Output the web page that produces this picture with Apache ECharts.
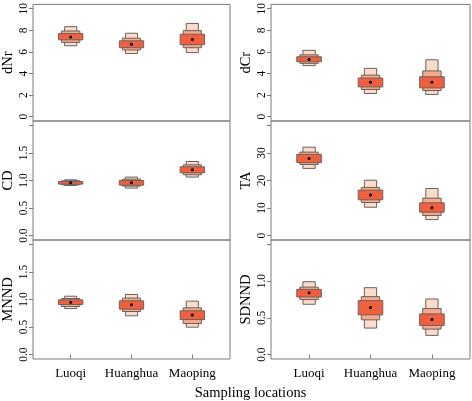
<!DOCTYPE html>
<html><head><meta charset="utf-8">
<script src="https://cdn.jsdelivr.net/npm/echarts@6/dist/echarts.min.js"></script>
<style>html,body{margin:0;padding:0;background:#fff}#c{width:472px;height:401px}</style>
</head><body><div id="c"></div><script>
const locations = ['Luoqi', 'Huanghua', 'Maoping'];

// [low, high] of the outer (light), middle and inner (dark) intervals, plus the median dot
const dNrOuter  = [[6.57, 8.34], [5.85, 7.73], [5.94, 8.64]];
const dNrMiddle = [[6.88, 7.94], [6.18, 7.27], [6.39, 7.97]];
const dNrInner  = [[7.12, 7.70], [6.39, 7.03], [6.67, 7.64]];
const dNrMedian = [7.39, 6.70, 7.15];

const dCrOuter  = [[4.73, 6.15], [2.15, 4.48], [2.06, 5.27]];
const dCrMiddle = [[4.94, 5.73], [2.52, 3.85], [2.42, 4.24]];
const dCrInner  = [[5.09, 5.55], [2.76, 3.58], [2.67, 3.70]];
const dCrMedian = [5.30, 3.18, 3.18];

const CDOuter  = [[0.909, 1.013], [0.862, 1.062], [1.062, 1.345]];
const CDMiddle = [[0.922, 0.995], [0.898, 1.025], [1.104, 1.285]];
const CDInner  = [[0.934, 0.982], [0.916, 1.000], [1.140, 1.249]];
const CDMedian = [0.958, 0.958, 1.195];

const TAOuter  = [[24.4, 32.1], [10.3, 20.1], [5.8, 17.1]];
const TAMiddle = [[25.8, 30.3], [12.0, 17.5], [7.3, 13.6]];
const TAInner  = [[26.5, 29.5], [13.0, 16.5], [8.5, 11.9]];
const TAMedian = [28.0, 14.7, 10.1];

const MNNDOuter  = [[0.836, 1.060], [0.704, 1.091], [0.498, 0.970]];
const MNNDMiddle = [[0.873, 1.018], [0.782, 1.025], [0.564, 0.849]];
const MNNDInner  = [[0.909, 0.994], [0.825, 0.976], [0.636, 0.795]];
const MNNDMedian = [0.952, 0.903, 0.720];

const SDNNDOuter  = [[0.685, 0.992], [0.361, 0.911], [0.262, 0.757]];
const SDNNDMiddle = [[0.749, 0.919], [0.473, 0.789], [0.347, 0.627]];
const SDNNDInner  = [[0.784, 0.888], [0.541, 0.735], [0.397, 0.554]];
const SDNNDMedian = [0.843, 0.640, 0.478];

// axis ticks and labelled ticks
const dNrTicks = [0, 2, 4, 6, 8, 10];     const dNrLabels = [0, 2, 4, 6, 8, 10];
const dCrTicks = [0, 2, 4, 6, 8, 10];     const dCrLabels = [0, 2, 4, 6, 8, 10];
const CDTicks = [0, 0.5, 1, 1.5, 2];      const CDLabels = [0, 0.5, 1, 1.5];
const TATicks = [0, 10, 20, 30, 40];      const TALabels = [0, 10, 20, 30];
const MNNDTicks = [0, 0.5, 1, 1.5, 2];    const MNNDLabels = [0, 0.5, 1, 1.5];
const SDNNDTicks = [0, 0.5, 1, 1.5];      const SDNNDLabels = [0, 0.5, 1];

const xTitle = 'Sampling locations';

const panels = [
  { name: 'dNr', outer: dNrOuter, middle: dNrMiddle, inner: dNrInner, median: dNrMedian, ticks: dNrTicks, labels: dNrLabels, dec: 0 },
  { name: 'dCr', outer: dCrOuter, middle: dCrMiddle, inner: dCrInner, median: dCrMedian, ticks: dCrTicks, labels: dCrLabels, dec: 0 },
  { name: 'CD', outer: CDOuter, middle: CDMiddle, inner: CDInner, median: CDMedian, ticks: CDTicks, labels: CDLabels, dec: 1 },
  { name: 'TA', outer: TAOuter, middle: TAMiddle, inner: TAInner, median: TAMedian, ticks: TATicks, labels: TALabels, dec: 0 },
  { name: 'MNND', outer: MNNDOuter, middle: MNNDMiddle, inner: MNNDInner, median: MNNDMedian, ticks: MNNDTicks, labels: MNNDLabels, dec: 1 },
  { name: 'SDNND', outer: SDNNDOuter, middle: SDNNDMiddle, inner: SDNNDInner, median: SDNNDMedian, ticks: SDNNDTicks, labels: SDNNDLabels, dec: 1 }
];

const FONT = "'Liberation Serif', 'Times New Roman', serif";
const GRAY = '#7a7a7a';
const colLight = '#fbdccb', colMid = '#f4a98a', colDark = '#f0603f', colEdge = '#6a625e';

const colLeft = [31, 271];
const rowTop = [2, 121, 240];
const W = 199, H = 119;

const grids = [], xAxes = [], yAxes = [], series = [];
panels.forEach((p, i) => {
  const col = i % 2, row = Math.floor(i / 2);
  grids.push({ show: true, left: colLeft[col], top: rowTop[row], width: W, height: H,
    borderColor: GRAY, borderWidth: 1, backgroundColor: 'transparent' });
  const isBottom = row === 2;
  xAxes.push({
    type: 'value', gridIndex: i, min: 0.38, max: 3.62,
    axisLine: { show: false }, splitLine: { show: false },
    axisTick: { show: isBottom, customValues: [1, 2, 3], length: 4, lineStyle: { color: GRAY } },
    axisLabel: { show: isBottom, customValues: [1, 2, 3], margin: 8,
      formatter: v => locations[Math.round(v) - 1] || '',
      fontFamily: FONT, fontSize: 13, color: '#000' }
  });
  const lo = p.ticks[0], hi = p.ticks[p.ticks.length - 1], pad = (hi - lo) * 0.04;
  yAxes.push({
    type: 'value', gridIndex: i, min: lo - pad, max: hi + pad,
    name: p.name, nameLocation: 'middle', nameRotate: 90, nameGap: 17,
    nameTextStyle: { fontFamily: FONT, fontSize: 14.5, color: '#000' },
    axisLine: { show: false }, splitLine: { show: false },
    axisTick: { show: true, customValues: p.ticks, length: 4, lineStyle: { color: GRAY } },
    axisLabel: { customValues: p.labels, rotate: 90, margin: 3,
      formatter: v => Number(v).toFixed(p.dec),
      fontFamily: FONT, fontSize: 11.5, color: '#000' }
  });
  const data = locations.map((loc, k) => [k + 1,
    p.outer[k][0], p.outer[k][1], p.middle[k][0], p.middle[k][1],
    p.inner[k][0], p.inner[k][1], p.median[k]]);
  series.push({
    type: 'custom', xAxisIndex: i, yAxisIndex: i, data: data, silent: true,
    renderItem: (params, api) => {
      const x = api.value(0);
      const levels = [
        [api.value(1), api.value(2), 0.1, colLight],
        [api.value(3), api.value(4), 0.15, colMid],
        [api.value(5), api.value(6), 0.2, colDark]
      ];
      const children = levels.map(([l, h, hw, c]) => {
        const a = api.coord([x - hw, h]), b = api.coord([x + hw, l]);
        return { type: 'rect', shape: { x: a[0], y: a[1], width: b[0] - a[0], height: b[1] - a[1] },
          style: { fill: c, stroke: colEdge, lineWidth: 1 } };
      });
      const m = api.coord([x, api.value(7)]);
      children.push({ type: 'circle', shape: { cx: m[0], cy: m[1], r: 1.5 }, style: { fill: '#000' } });
      return { type: 'group', children: children };
    }
  });
});

const chart = echarts.init(document.getElementById('c'), null, { renderer: 'canvas' });
chart.setOption({
  animation: false,
  backgroundColor: '#fff',
  grid: grids, xAxis: xAxes, yAxis: yAxes, series: series,
  graphic: [{ type: 'text', x: 250.5, y: 393,
    style: { text: xTitle, fontFamily: FONT, fontSize: 14.5, fill: '#000',
      textAlign: 'center', textVerticalAlign: 'middle' } }]
});
</script></body></html>
